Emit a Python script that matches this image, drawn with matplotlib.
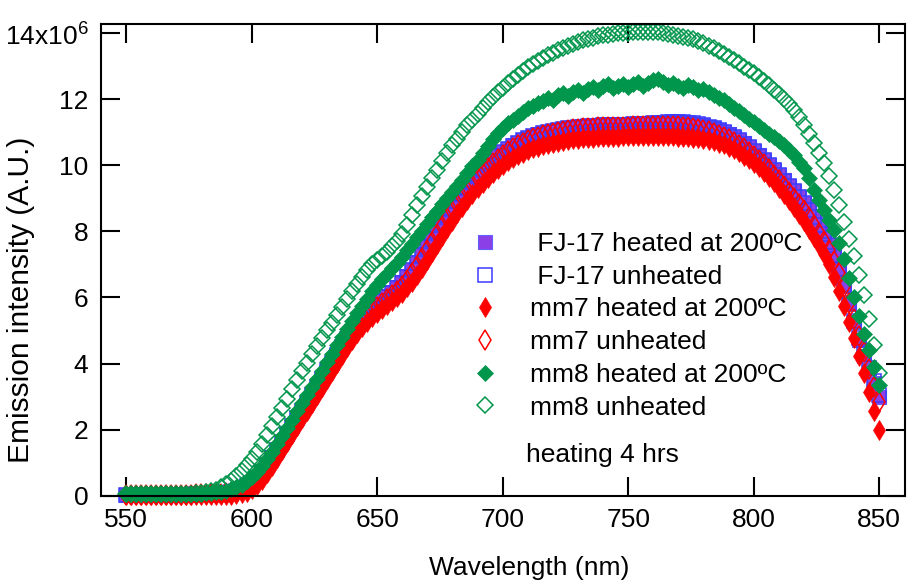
#!/usr/bin/python

############### Importing libraries ################
import numpy as np
import matplotlib
matplotlib.use("Agg")
import matplotlib.pyplot as plt
from matplotlib.ticker import FixedLocator, FixedFormatter

plt.rcParams['font.family'] = ['Liberation Sans', 'DejaVu Sans']
plt.rcParams['mathtext.fontset'] = 'custom'
plt.rcParams['mathtext.rm'] = 'Liberation Sans'

############### Data (2 nm steps) ###############
wavelength = np.arange(550, 851, 2)  # nm

# FJ-17 heated at 200 C (emission, x10^6 A.U.)
fj17_heated = [
    0.03, 0.03, 0.03, 0.03, 0.03, 0.03, 0.03, 0.03, 0.03, 0.03,
    0.03, 0.03, 0.03, 0.04, 0.04, 0.04, 0.05, 0.05, 0.06, 0.07,
    0.09, 0.12, 0.16, 0.22, 0.30, 0.42, 0.56, 0.74, 0.94, 1.16,
    1.40, 1.64, 1.88, 2.12, 2.36, 2.60, 2.84, 3.08, 3.32, 3.56,
    3.80, 4.04, 4.28, 4.52, 4.76, 4.98, 5.18, 5.36, 5.52, 5.66,
    5.80, 5.92, 6.04, 6.16, 6.30, 6.46, 6.64, 6.84, 7.06, 7.30,
    7.54, 7.78, 8.02, 8.26, 8.50, 8.72, 8.94, 9.14, 9.34, 9.52,
    9.70, 9.86, 10.02, 10.16, 10.28, 10.40, 10.50, 10.60, 10.68, 10.76,
    10.82, 10.88, 10.93, 10.97, 11.01, 11.04, 11.07, 11.10, 11.12, 11.14,
    11.16, 11.17, 11.18, 11.19, 11.20, 11.20, 11.21, 11.21, 11.22, 11.22,
    11.22, 11.22, 11.23, 11.23, 11.24, 11.24, 11.25, 11.25, 11.26, 11.26,
    11.26, 11.26, 11.25, 11.24, 11.22, 11.20, 11.16, 11.12, 11.06, 11.00,
    10.93, 10.85, 10.76, 10.66, 10.55, 10.43, 10.30, 10.16, 10.01, 9.86,
    9.70, 9.54, 9.38, 9.22, 9.05, 8.86, 8.66, 8.44, 8.20, 7.94,
    7.60, 7.25, 6.85, 6.35, 5.80, 5.25, 4.72, 4.22, 3.80, 3.40,
    3.00]

# FJ-17 unheated
fj17_unheated = [
    0.02, 0.02, 0.02, 0.02, 0.02, 0.02, 0.02, 0.03, 0.03, 0.03,
    0.03, 0.03, 0.03, 0.03, 0.04, 0.04, 0.05, 0.05, 0.06, 0.07,
    0.09, 0.11, 0.15, 0.21, 0.29, 0.40, 0.54, 0.72, 0.92, 1.14,
    1.38, 1.62, 1.86, 2.10, 2.34, 2.58, 2.82, 3.06, 3.30, 3.54,
    3.78, 4.02, 4.26, 4.50, 4.74, 4.96, 5.16, 5.34, 5.50, 5.64,
    5.78, 5.90, 6.02, 6.14, 6.28, 6.44, 6.62, 6.82, 7.04, 7.28,
    7.52, 7.76, 8.00, 8.24, 8.48, 8.70, 8.92, 9.12, 9.32, 9.50,
    9.68, 9.84, 10.00, 10.14, 10.27, 10.39, 10.49, 10.59, 10.67, 10.75,
    10.81, 10.87, 10.92, 10.96, 11.00, 11.03, 11.06, 11.09, 11.11, 11.13,
    11.15, 11.16, 11.17, 11.18, 11.19, 11.20, 11.20, 11.21, 11.21, 11.22,
    11.22, 11.23, 11.23, 11.24, 11.25, 11.26, 11.27, 11.28, 11.29, 11.30,
    11.31, 11.30, 11.28, 11.26, 11.23, 11.20, 11.16, 11.11, 11.05, 10.99,
    10.92, 10.84, 10.75, 10.65, 10.54, 10.42, 10.29, 10.15, 10.00, 9.85,
    9.69, 9.53, 9.37, 9.21, 9.04, 8.85, 8.65, 8.43, 8.19, 7.93,
    7.60, 7.26, 6.86, 6.38, 5.84, 5.30, 4.78, 4.28, 3.86, 3.46,
    3.05]

# mm7 heated at 200 C
mm7_heated = [
    0.02, 0.02, 0.02, 0.02, 0.02, 0.02, 0.02, 0.02, 0.02, 0.02,
    0.02, 0.02, 0.02, 0.02, 0.02, 0.01, 0.01, 0.01, 0.01, 0.01,
    0.02, 0.03, 0.05, 0.08, 0.13, 0.20, 0.32, 0.48, 0.68, 0.90,
    1.14, 1.38, 1.62, 1.86, 2.10, 2.34, 2.58, 2.82, 3.06, 3.30,
    3.54, 3.78, 4.02, 4.26, 4.50, 4.72, 4.92, 5.10, 5.26, 5.40,
    5.52, 5.64, 5.76, 5.88, 6.00, 6.14, 6.30, 6.48, 6.68, 6.90,
    7.14, 7.38, 7.62, 7.86, 8.10, 8.32, 8.54, 8.74, 8.94, 9.12,
    9.30, 9.46, 9.62, 9.76, 9.89, 10.01, 10.12, 10.22, 10.30, 10.38,
    10.45, 10.51, 10.56, 10.61, 10.65, 10.68, 10.71, 10.74, 10.76, 10.78,
    10.80, 10.81, 10.82, 10.83, 10.84, 10.85, 10.85, 10.86, 10.86, 10.87,
    10.87, 10.87, 10.88, 10.88, 10.88, 10.88, 10.88, 10.88, 10.87, 10.87,
    10.86, 10.85, 10.84, 10.83, 10.81, 10.79, 10.76, 10.72, 10.68, 10.63,
    10.56, 10.48, 10.39, 10.29, 10.18, 10.06, 9.93, 9.79, 9.64, 9.48,
    9.31, 9.13, 8.94, 8.74, 8.53, 8.31, 8.08, 7.84, 7.58, 7.30,
    7.00, 6.62, 6.20, 5.74, 5.26, 4.76, 4.24, 3.70, 3.14, 2.56,
    2.00]

# mm7 unheated
mm7_unheated = [
    0.03, 0.03, 0.03, 0.03, 0.03, 0.03, 0.03, 0.03, 0.03, 0.03,
    0.03, 0.03, 0.03, 0.03, 0.04, 0.04, 0.04, 0.05, 0.05, 0.06,
    0.08, 0.10, 0.14, 0.19, 0.27, 0.37, 0.50, 0.67, 0.87, 1.08,
    1.32, 1.56, 1.80, 2.04, 2.28, 2.52, 2.76, 3.00, 3.24, 3.48,
    3.72, 3.96, 4.20, 4.44, 4.68, 4.90, 5.10, 5.28, 5.44, 5.58,
    5.71, 5.83, 5.95, 6.07, 6.20, 6.36, 6.54, 6.74, 6.96, 7.20,
    7.44, 7.68, 7.92, 8.16, 8.40, 8.62, 8.84, 9.04, 9.24, 9.42,
    9.60, 9.76, 9.92, 10.06, 10.19, 10.31, 10.42, 10.52, 10.60, 10.68,
    10.75, 10.81, 10.86, 10.91, 10.95, 10.98, 11.01, 11.04, 11.06, 11.08,
    11.10, 11.11, 11.12, 11.13, 11.14, 11.14, 11.15, 11.15, 11.16, 11.16,
    11.16, 11.17, 11.17, 11.17, 11.18, 11.18, 11.18, 11.18, 11.18, 11.18,
    11.17, 11.16, 11.14, 11.12, 11.09, 11.06, 11.02, 10.97, 10.92, 10.86,
    10.79, 10.71, 10.62, 10.52, 10.41, 10.29, 10.16, 10.02, 9.87, 9.71,
    9.54, 9.37, 9.20, 9.02, 8.84, 8.64, 8.43, 8.20, 7.96, 7.70,
    7.42, 7.10, 6.74, 6.32, 5.84, 5.34, 4.84, 4.34, 3.82, 3.30,
    2.85]

# mm8 heated at 200 C
mm8_heated = [
    0.05, 0.05, 0.05, 0.05, 0.05, 0.05, 0.05, 0.05, 0.05, 0.05,
    0.05, 0.05, 0.05, 0.06, 0.06, 0.07, 0.08, 0.09, 0.11, 0.13,
    0.16, 0.20, 0.26, 0.34, 0.44, 0.56, 0.72, 0.90, 1.10, 1.32,
    1.56, 1.80, 2.05, 2.30, 2.56, 2.82, 3.06, 3.30, 3.54, 3.78,
    4.05, 4.30, 4.55, 4.80, 5.05, 5.30, 5.52, 5.74, 5.96, 6.18,
    6.38, 6.56, 6.72, 6.88, 7.04, 7.22, 7.42, 7.62, 7.82, 8.02,
    8.22, 8.42, 8.62, 8.82, 9.02, 9.20, 9.38, 9.56, 9.76, 9.96,
    10.16, 10.38, 10.58, 10.78, 10.96, 11.12, 11.26, 11.38, 11.50, 11.62,
    11.72, 11.80, 11.88, 11.94, 12.04, 11.98, 12.12, 12.18, 12.10, 12.22,
    12.28, 12.18, 12.30, 12.36, 12.26, 12.38, 12.44, 12.32, 12.40, 12.46,
    12.36, 12.44, 12.50, 12.40, 12.48, 12.56, 12.62, 12.50, 12.42, 12.48,
    12.40, 12.34, 12.42, 12.36, 12.26, 12.30, 12.20, 12.12, 12.04, 11.96,
    11.84, 11.72, 11.64, 11.52, 11.40, 11.30, 11.18, 11.06, 10.94, 10.84,
    10.72, 10.60, 10.46, 10.30, 10.10, 9.90, 9.60, 9.25, 8.95, 8.65,
    8.35, 8.05, 7.65, 7.15, 6.60, 6.00, 5.45, 4.90, 4.40, 3.90,
    3.35]

# mm8 unheated
mm8_unheated = [
    0.05, 0.05, 0.05, 0.05, 0.05, 0.05, 0.05, 0.05, 0.06, 0.06,
    0.06, 0.06, 0.07, 0.07, 0.08, 0.09, 0.11, 0.14, 0.19, 0.26,
    0.35, 0.46, 0.60, 0.76, 0.92, 1.10, 1.34, 1.58, 1.84, 2.10,
    2.38, 2.66, 2.94, 3.22, 3.50, 3.76, 4.02, 4.28, 4.52, 4.76,
    5.00, 5.24, 5.48, 5.72, 5.95, 6.18, 6.40, 6.62, 6.82, 7.00,
    7.12, 7.24, 7.38, 7.54, 7.72, 7.92, 8.20, 8.50, 8.78, 9.06,
    9.33, 9.60, 9.86, 10.12, 10.38, 10.60, 10.80, 11.00, 11.20, 11.38,
    11.56, 11.74, 11.90, 12.05, 12.20, 12.34, 12.48, 12.62, 12.74, 12.86,
    12.96, 13.06, 13.16, 13.24, 13.32, 13.40, 13.47, 13.54, 13.60, 13.66,
    13.72, 13.77, 13.82, 13.86, 13.90, 13.93, 13.95, 13.97, 13.99, 14.00,
    14.01, 14.02, 14.03, 14.04, 14.04, 14.04, 14.03, 14.01, 13.98, 13.95,
    13.92, 13.88, 13.84, 13.80, 13.74, 13.68, 13.61, 13.54, 13.46, 13.37,
    13.28, 13.18, 13.08, 12.98, 12.88, 12.78, 12.66, 12.54, 12.41, 12.28,
    12.14, 12.00, 11.84, 11.66, 11.46, 11.20, 10.95, 10.68, 10.38, 10.05,
    9.68, 9.25, 8.78, 8.28, 7.76, 7.25, 6.68, 6.08, 5.36, 4.56,
    3.70]

x_ticks = [550, 600, 650, 700, 750, 800, 850]
y_ticks = [0, 2, 4, 6, 8, 10, 12, 14]
y_tick_labels = ["0", "2", "4", "6", "8", "10", "12", "14x10$^{6}$"]

labels = [" FJ-17 heated at 200ºC", " FJ-17 unheated",
          "mm7 heated at 200ºC", "mm7 unheated",
          "mm8 heated at 200ºC", "mm8 unheated"]

############### Plot ###############
def plot_spectra(outname):
    fig = plt.figure(figsize=(9.09, 5.84), dpi=100)
    ax = fig.add_axes([0.111, 0.151, 0.885, 0.808])

    green = "#00964B"
    common = dict(linestyle="none", clip_on=False)

    # Drawn in legend order, so later series sit on top
    ax.plot(wavelength, fj17_heated, marker="s", ms=9.5, mfc="#8A40E6",
            mec="#6060FF", mew=0.8, label=labels[0], **common)
    ax.plot(wavelength, fj17_unheated, marker="s", ms=9.5, mfc="none",
            mec="#3C3CFF", mew=1.1, label=labels[1], **common)
    ax.plot(wavelength, mm7_heated, marker="d", ms=10.5, mfc="#FF0000",
            mec="#FF0000", mew=0.5, label=labels[2], **common)
    ax.plot(wavelength, mm7_unheated, marker="d", ms=10.5, mfc="none",
            mec="#FF0000", mew=1.1, label=labels[3], **common)
    ax.plot(wavelength, mm8_heated, marker="D", ms=8.5, mfc=green,
            mec=green, mew=0.5, label=labels[4], **common)
    ax.plot(wavelength, mm8_unheated, marker="D", ms=8.5, mfc="none",
            mec=green, mew=1.1, label=labels[5], **common)

    ax.set_xlim(540, 860.4)
    ax.set_ylim(0, 14.27)

    ax.xaxis.set_major_locator(FixedLocator(x_ticks))
    ax.yaxis.set_major_locator(FixedLocator(y_ticks))
    ax.yaxis.set_major_formatter(FixedFormatter(y_tick_labels))

    ax.tick_params(which="major", direction="in", length=13.5, width=1.5,
                   top=True, right=True, labelsize=19, pad=9)
    for side in ax.spines.values():
        side.set_linewidth(1.5)

    ax.set_xlabel("Wavelength (nm)", fontsize=19)
    ax.set_ylabel("Emission intensity (A.U.)", fontsize=21.5)
    ax.xaxis.set_label_coords(0.532, -0.128)
    ax.yaxis.set_label_coords(-0.082, 0.415)

    ax.legend(loc="upper left", bbox_to_anchor=(0.461, 0.559), frameon=False,
              fontsize=19, numpoints=1, handlelength=1.0, handletextpad=1.2,
              labelspacing=0.33, borderpad=0, borderaxespad=0)
    ax.text(0.529, 0.087, "heating 4 hrs", transform=ax.transAxes,
            fontsize=19, ha="left", va="center")

    fig.savefig(outname, dpi=100)

def main():
    plot_spectra("out.png")

if __name__ == "__main__":
    main()
